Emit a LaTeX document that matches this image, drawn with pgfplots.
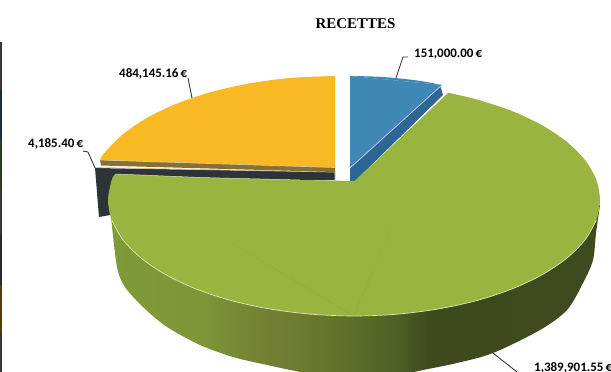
\documentclass[border=0pt]{standalone}
\usepackage{pgfplots}
\pgfplotsset{compat=1.18}
\usepackage{fontspec}
\setmainfont{Carlito}
\newfontfamily\titlefont{Liberation Serif}

\definecolor{cgreen}{HTML}{9AB53F}
\definecolor{cedge}{HTML}{DCE6B8}
\definecolor{cyellow}{HTML}{F8B922}
\definecolor{cband}{HTML}{8A7030}
\definecolor{cblue}{HTML}{3F88B6}
\definecolor{cbluedk}{HTML}{2D6690}
\definecolor{cslate}{HTML}{2E3338}
\definecolor{cbeige}{HTML}{D0C8A8}
\definecolor{cleader}{HTML}{3A3A3A}
\definecolor{wa}{HTML}{7F9A38}
\definecolor{wb}{HTML}{7F9538}
\definecolor{wc}{HTML}{727F33}
\definecolor{wd}{HTML}{6D7A32}
\definecolor{we}{HTML}{5F6F2A}
\definecolor{wf}{HTML}{4F5E24}
\definecolor{wg}{HTML}{3E491E}
\definecolor{wh}{HTML}{3F4A1E}
\definecolor{sa}{HTML}{3A3535}
\definecolor{sb}{HTML}{1F2C3C}
\definecolor{sc}{HTML}{2C3A22}
\definecolor{sd}{HTML}{2A2A2A}
\definecolor{se}{HTML}{4D3D10}
\pgfdeclarehorizontalshading{wallshade}{100bp}{color(0bp)=(wa); color(25.5bp)=(wa); color(34.5bp)=(wb); color(41.5bp)=(wc); color(44.5bp)=(wd); color(49.5bp)=(we); color(54.5bp)=(wf); color(57.5bp)=(wg); color(75bp)=(wh); color(100bp)=(wh)}
\tikzset{
    lbl/.style={font=\bfseries\fontsize{13}{14}\selectfont, text=black, inner sep=0pt},
    lead/.style={draw=cleader, line width=0.9pt}}

\begin{document}
\begin{tikzpicture}
\path[use as bounding box,clip] (0,0) rectangle (611bp,372bp);
\begin{axis}[
    width=611bp, height=372bp, scale only axis, hide axis,
    xmin=0, xmax=611, ymin=0, ymax=372, y dir=reverse,
    every axis plot/.append style={no markers, line join=round}]

% strip of another chart at the left edge
\addplot[fill=sa, draw=none] coordinates {(0,42)(2.2,42)(2.2,90)(0,90)};
\addplot[fill=sb, draw=none] coordinates {(0,90)(2.2,90)(2.2,140)(0,140)};
\addplot[fill=sc, draw=none] coordinates {(0,140)(2.2,140)(2.2,187)(0,187)};
\addplot[fill=sa, draw=none] coordinates {(0,187)(2.2,187)(2.2,235)(0,235)};
\addplot[fill=sd, draw=none] coordinates {(0,235)(2.2,235)(2.2,285)(0,285)};
\addplot[fill=se, draw=none] coordinates {(0,285)(2.2,285)(2.2,332)(0,332)};
\addplot[fill=sa, draw=none] coordinates {(0,332)(2.2,332)(2.2,372)(0,372)};

% 4,185.40 slice
\addplot[fill=cslate, draw=none] coordinates {(95,168)(335,172)(335,180)(120,180)(110,215)(99,217)};
\addplot[draw=cbeige, line width=0.8pt] coordinates {(95,167.5)(335,172)(335,180)};

% 484,145.16 slice
\addplot[fill=cband, draw=none] coordinates {(100,160)(335,167)(335,172)(101,165.5)};
\addplot[fill=cyellow, draw=none, smooth] coordinates {(335,76)(292.2,77.8)(250.9,83.1)(212,91.8)(176.8,103.6)(146.6,118.1)(122,135)(103.8,153.6)(100,160)};
\addplot[fill=cyellow, draw=none] coordinates {(335,76)(100,160)(335,167.5)};
\addplot[draw=cyellow, line width=1pt] coordinates {(334,77)(102,159)};
\addplot[draw=cbeige, line width=0.7pt] coordinates {(100,160)(335,167.5)};

% 151,000.00 slice
\addplot[fill=cbluedk, draw=none] coordinates {(350,168)(440,85)(443,95)(355,181)(350,181)};
\addplot[fill=cblue, draw=none, smooth] coordinates {(350,76)(373,76.5)(396,78.1)(420,80.9)(442,85)};
\addplot[fill=cblue, draw=none] coordinates {(350,76)(442,85)(350,168)};
\addplot[draw=cblue, line width=1pt] coordinates {(351,77)(440,85.5)};
\addplot[draw=blue!20!white, line width=0.7pt] coordinates {(350,168)(442,85)};

% 1,389,901.55 slice: wall, then top
\addplot[shade, shading=wallshade, draw=none, smooth, tension=0.5] coordinates {
  (600,205)(596,233)(593,260)(583,283)(567,310)(540,330)(493,353)(457,363)(423,370)
  (390,377)(354,380)(325,377)(300,372)(267,365)(233,357)(200,345)(167,327)(143,307)
  (125,287)(117,267)(111,218)(108,200)};
\addplot[fill=cgreen, draw=none, smooth] coordinates {
  (448.2,92.8)(477,99.5)(512.1,111.1)(542.4,125.4)(567,142)(585.2,160.3)
  (596.3,179.9)(600,200)(596.3,220.1)(585.2,239.7)(567,258)(542.4,274.6)(512.1,288.9)
  (477,300.5)(438.1,309)(396.8,314.2)(354,316)};
\addplot[fill=cgreen, draw=none, smooth] coordinates {
  (354,316)(311.2,314.2)(269.9,309)(231,300.5)
  (195.9,288.9)(165.6,274.6)(141,258)(122.8,239.7)(111.7,220.1)(108,200)(111.7,179.9)
  (115.4,174)};
\addplot[fill=cgreen, draw=none] coordinates {
  (355,181)(448.2,92.8)(354,316)(115.4,174)(200,177.5)(300,180)};
\addplot[draw=cgreen, line width=1pt] coordinates {(447.5,95)(354,314)(117,175)};
\addplot[draw=cedge, line width=0.7pt, smooth] coordinates {
  (596.3,220.1)(585.2,239.7)(567,258)(542.4,274.6)(512.1,288.9)(477,300.5)
  (438.1,309)(396.8,314.2)(354,316)(311.2,314.2)(269.9,309)(231,300.5)(195.9,288.9)
  (165.6,274.6)(141,258)(122.8,239.7)(111.7,220.1)};
\addplot[draw=cedge, line width=0.5pt] coordinates {(115.4,174)(200,177.5)(300,180)};

% leader lines
\addplot[lead] coordinates {(396,78)(403,57)(408,57)};
\addplot[lead] coordinates {(192,98)(188,78)};
\addplot[lead] coordinates {(95,168)(88,152)(83,151)};
\addplot[lead] coordinates {(493,353)(517,372)};

\node[font=\titlefont\bfseries\fontsize{15}{16}\selectfont, inner sep=0pt] at (axis cs:355.5,23.5) {RECETTES};
\node[lbl, anchor=west] at (axis cs:414,54) {151,000.00\,€};
\node[lbl, anchor=west] at (axis cs:119,73.5) {484,145.16\,€};
\node[lbl, anchor=west] at (axis cs:28,143.5) {4,185.40\,€};
\node[lbl, anchor=west] at (axis cs:534,368) {1,389,901.55\,€};
\end{axis}
\end{tikzpicture}
\end{document}
